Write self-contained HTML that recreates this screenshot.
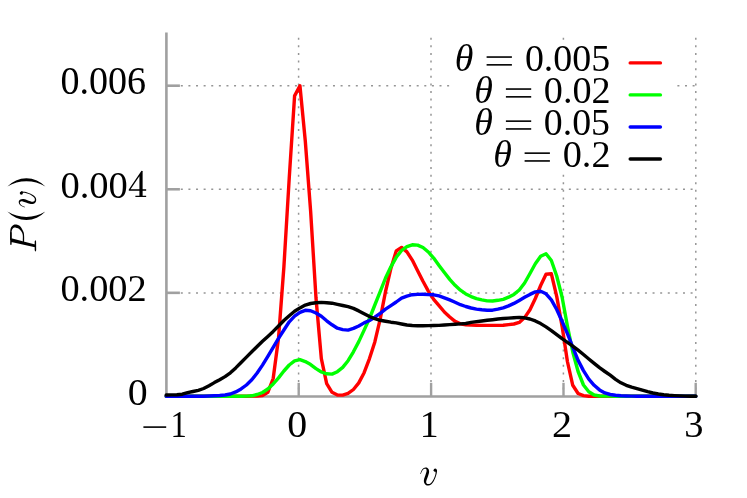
<!DOCTYPE html>
<html><head><meta charset="utf-8"><title>P(v)</title>
<style>
html,body{margin:0;padding:0;background:#fff;}
body{width:747px;height:498px;overflow:hidden;position:relative;font-family:"Liberation Serif",serif;}
svg text{font-family:"Liberation Serif",serif;fill:#000;font-kerning:none;}
</style></head><body>
<svg width="747" height="498" viewBox="0 0 747 498" style="position:absolute;left:0;top:0;will-change:transform">
<rect width="747" height="498" fill="#fff"/>
<path d="M298.60 387.59v2.00M298.60 379.99v2.00M298.60 372.38v2.00M298.60 364.78v2.00M298.60 357.17v2.00M298.60 349.57v2.00M298.60 341.96v2.00M298.60 334.36v2.00M298.60 326.75v2.00M298.60 319.15v2.00M298.60 311.54v2.00M298.60 303.94v2.00M298.60 296.33v2.00M298.60 288.73v2.00M298.60 281.12v2.00M298.60 273.52v2.00M298.60 265.91v2.00M298.60 258.31v2.00M298.60 250.70v2.00M298.60 243.10v2.00M298.60 235.49v2.00M298.60 227.89v2.00M298.60 220.28v2.00M298.60 212.68v2.00M298.60 205.07v2.00M298.60 197.47v2.00M298.60 189.86v2.00M298.60 182.26v2.00M298.60 174.65v2.00M298.60 167.05v2.00M298.60 159.44v2.00M298.60 151.84v2.00M298.60 144.23v2.00M298.60 136.63v2.00M298.60 129.02v2.00M298.60 121.42v2.00M298.60 113.81v2.00M298.60 106.21v2.00M298.60 98.60v2.00M298.60 91.00v2.00M298.60 83.39v2.00M298.60 75.79v2.00M298.60 68.18v2.00M298.60 60.58v2.00M298.60 52.97v2.00M298.60 45.37v2.00M298.60 37.76v2.00" stroke="#959595" stroke-width="1.50" fill="none"/>
<path d="M431.00 387.59v2.00M431.00 379.99v2.00M431.00 372.38v2.00M431.00 364.78v2.00M431.00 357.17v2.00M431.00 349.57v2.00M431.00 341.96v2.00M431.00 334.36v2.00M431.00 326.75v2.00M431.00 319.15v2.00M431.00 311.54v2.00M431.00 303.94v2.00M431.00 296.33v2.00M431.00 288.73v2.00M431.00 281.12v2.00M431.00 273.52v2.00M431.00 265.91v2.00M431.00 258.31v2.00M431.00 250.70v2.00M431.00 243.10v2.00M431.00 235.49v2.00M431.00 227.89v2.00M431.00 220.28v2.00M431.00 212.68v2.00M431.00 205.07v2.00M431.00 197.47v2.00M431.00 189.86v2.00M431.00 182.26v2.00M431.00 174.65v2.00M431.00 167.05v2.00M431.00 159.44v2.00M431.00 151.84v2.00M431.00 144.23v2.00M431.00 136.63v2.00M431.00 129.02v2.00M431.00 121.42v2.00M431.00 113.81v2.00M431.00 106.21v2.00M431.00 98.60v2.00M431.00 91.00v2.00M431.00 83.39v2.00M431.00 75.79v2.00M431.00 68.18v2.00M431.00 60.58v2.00M431.00 52.97v2.00M431.00 45.37v2.00M431.00 37.76v2.00" stroke="#959595" stroke-width="1.50" fill="none"/>
<path d="M695.80 387.59v2.00M695.80 379.99v2.00M695.80 372.38v2.00M695.80 364.78v2.00M695.80 357.17v2.00M695.80 349.57v2.00M695.80 341.96v2.00M695.80 334.36v2.00M695.80 326.75v2.00M695.80 319.15v2.00M695.80 311.54v2.00M695.80 303.94v2.00M695.80 296.33v2.00M695.80 288.73v2.00M695.80 281.12v2.00M695.80 273.52v2.00M695.80 265.91v2.00M695.80 258.31v2.00M695.80 250.70v2.00M695.80 243.10v2.00M695.80 235.49v2.00M695.80 227.89v2.00M695.80 220.28v2.00M695.80 212.68v2.00M695.80 205.07v2.00M695.80 197.47v2.00M695.80 189.86v2.00M695.80 182.26v2.00M695.80 174.65v2.00M695.80 167.05v2.00M695.80 159.44v2.00M695.80 151.84v2.00M695.80 144.23v2.00M695.80 136.63v2.00M695.80 129.02v2.00M695.80 121.42v2.00M695.80 113.81v2.00M695.80 106.21v2.00M695.80 98.60v2.00M695.80 91.00v2.00M695.80 83.39v2.00M695.80 75.79v2.00M695.80 68.18v2.00M695.80 60.58v2.00M695.80 52.97v2.00M695.80 45.37v2.00M695.80 37.76v2.00" stroke="#959595" stroke-width="1.50" fill="none"/>
<path d="M563.40 37.76v2.00" stroke="#959595" stroke-width="1.50" fill="none"/>
<path d="M563.40 387.59v2.00M563.40 379.99v2.00M563.40 372.38v2.00M563.40 364.78v2.00M563.40 357.17v2.00M563.40 349.57v2.00M563.40 341.96v2.00M563.40 334.36v2.00M563.40 326.75v2.00M563.40 319.15v2.00M563.40 311.54v2.00M563.40 303.94v2.00M563.40 296.33v2.00M563.40 288.73v2.00M563.40 281.12v2.00M563.40 273.52v2.00M563.40 265.91v2.00M563.40 258.31v2.00M563.40 250.70v2.00M563.40 243.10v2.00M563.40 235.49v2.00M563.40 227.89v2.00M563.40 220.28v2.00M563.40 212.68v2.00M563.40 205.07v2.00M563.40 197.47v2.00M563.40 189.86v2.00M563.40 182.26v2.00M563.40 174.65v2.00" stroke="#959595" stroke-width="1.50" fill="none"/>
<path d="M173.19 292.93h2.00M180.80 292.93h2.00M188.41 292.93h2.00M196.02 292.93h2.00M203.63 292.93h2.00M211.24 292.93h2.00M218.85 292.93h2.00M226.45 292.93h2.00M234.06 292.93h2.00M241.67 292.93h2.00M249.28 292.93h2.00M256.89 292.93h2.00M264.50 292.93h2.00M272.11 292.93h2.00M279.72 292.93h2.00M287.33 292.93h2.00M294.94 292.93h2.00M302.54 292.93h2.00M310.15 292.93h2.00M317.76 292.93h2.00M325.37 292.93h2.00M332.98 292.93h2.00M340.59 292.93h2.00M348.20 292.93h2.00M355.81 292.93h2.00M363.42 292.93h2.00M371.02 292.93h2.00M378.63 292.93h2.00M386.24 292.93h2.00M393.85 292.93h2.00M401.46 292.93h2.00M409.07 292.93h2.00M416.68 292.93h2.00M424.29 292.93h2.00M431.90 292.93h2.00M439.51 292.93h2.00M447.11 292.93h2.00M454.72 292.93h2.00M462.33 292.93h2.00M469.94 292.93h2.00M477.55 292.93h2.00M485.16 292.93h2.00M492.77 292.93h2.00M500.38 292.93h2.00M507.99 292.93h2.00M515.60 292.93h2.00M523.20 292.93h2.00M530.81 292.93h2.00M538.42 292.93h2.00M546.03 292.93h2.00M553.64 292.93h2.00M561.25 292.93h2.00M568.86 292.93h2.00M576.47 292.93h2.00M584.08 292.93h2.00M591.69 292.93h2.00M599.29 292.93h2.00M606.90 292.93h2.00M614.51 292.93h2.00M622.12 292.93h2.00M629.73 292.93h2.00M637.34 292.93h2.00M644.95 292.93h2.00M652.56 292.93h2.00M660.17 292.93h2.00M667.78 292.93h2.00M675.39 292.93h2.00M682.99 292.93h2.00M690.60 292.93h2.00" stroke="#959595" stroke-width="1.50" fill="none"/>
<path d="M173.19 189.37h2.00M180.80 189.37h2.00M188.41 189.37h2.00M196.02 189.37h2.00M203.63 189.37h2.00M211.24 189.37h2.00M218.85 189.37h2.00M226.45 189.37h2.00M234.06 189.37h2.00M241.67 189.37h2.00M249.28 189.37h2.00M256.89 189.37h2.00M264.50 189.37h2.00M272.11 189.37h2.00M279.72 189.37h2.00M287.33 189.37h2.00M294.94 189.37h2.00M302.54 189.37h2.00M310.15 189.37h2.00M317.76 189.37h2.00M325.37 189.37h2.00M332.98 189.37h2.00M340.59 189.37h2.00M348.20 189.37h2.00M355.81 189.37h2.00M363.42 189.37h2.00M371.02 189.37h2.00M378.63 189.37h2.00M386.24 189.37h2.00M393.85 189.37h2.00M401.46 189.37h2.00M409.07 189.37h2.00M416.68 189.37h2.00M424.29 189.37h2.00M431.90 189.37h2.00M439.51 189.37h2.00M447.11 189.37h2.00M454.72 189.37h2.00M462.33 189.37h2.00M469.94 189.37h2.00M477.55 189.37h2.00M485.16 189.37h2.00M492.77 189.37h2.00M500.38 189.37h2.00M507.99 189.37h2.00M515.60 189.37h2.00M523.20 189.37h2.00M530.81 189.37h2.00M538.42 189.37h2.00M546.03 189.37h2.00M553.64 189.37h2.00M561.25 189.37h2.00M568.86 189.37h2.00M576.47 189.37h2.00M584.08 189.37h2.00M591.69 189.37h2.00M599.29 189.37h2.00M606.90 189.37h2.00M614.51 189.37h2.00M622.12 189.37h2.00M629.73 189.37h2.00M637.34 189.37h2.00M644.95 189.37h2.00M652.56 189.37h2.00M660.17 189.37h2.00M667.78 189.37h2.00M675.39 189.37h2.00M682.99 189.37h2.00M690.60 189.37h2.00" stroke="#959595" stroke-width="1.50" fill="none"/>
<path d="M173.19 85.80h2.00M180.80 85.80h2.00M188.41 85.80h2.00M196.02 85.80h2.00M203.63 85.80h2.00M211.24 85.80h2.00M218.85 85.80h2.00M226.45 85.80h2.00M234.06 85.80h2.00M241.67 85.80h2.00M249.28 85.80h2.00M256.89 85.80h2.00M264.50 85.80h2.00M272.11 85.80h2.00M279.72 85.80h2.00M287.33 85.80h2.00M294.94 85.80h2.00M302.54 85.80h2.00M310.15 85.80h2.00M317.76 85.80h2.00M325.37 85.80h2.00M332.98 85.80h2.00M340.59 85.80h2.00M348.20 85.80h2.00M355.81 85.80h2.00M363.42 85.80h2.00M371.02 85.80h2.00M378.63 85.80h2.00M386.24 85.80h2.00M393.85 85.80h2.00M401.46 85.80h2.00M409.07 85.80h2.00M416.68 85.80h2.00M424.29 85.80h2.00M431.90 85.80h2.00M439.51 85.80h2.00M447.11 85.80h2.00" stroke="#959595" stroke-width="1.50" fill="none"/>
<path d="M677.40 85.80h2.00M685.01 85.80h2.00M692.62 85.80h2.00" stroke="#959595" stroke-width="1.50" fill="none"/>
<path d="M166.40 32.50 V396.55 H697.00" stroke="#a0a0a0" stroke-width="2.6" fill="none" stroke-linejoin="miter"/>
<path d="M298.70 396.55 V382.8" stroke="#a0a0a0" stroke-width="2.4" fill="none"/>
<path d="M431.10 396.55 V382.8" stroke="#a0a0a0" stroke-width="2.4" fill="none"/>
<path d="M563.50 396.55 V382.8" stroke="#a0a0a0" stroke-width="2.4" fill="none"/>
<path d="M695.70 396.55 V382.8" stroke="#a0a0a0" stroke-width="2.4" fill="none"/>
<path d="M166.40 292.83 H179.9" stroke="#a0a0a0" stroke-width="2.6" fill="none"/>
<path d="M166.40 189.27 H179.9" stroke="#a0a0a0" stroke-width="2.6" fill="none"/>
<path d="M166.40 85.70 H179.9" stroke="#a0a0a0" stroke-width="2.6" fill="none"/>
<path d="M166.20 396.3 L171.55 396.3 L176.90 396.3 L182.25 396.3 L187.60 396.3 L192.95 396.3 L198.30 396.3 L203.65 396.3 L209.00 396.3 L214.35 396.3 L219.69 396.3 L225.04 396.3 L230.39 396.3 L235.74 396.3 L241.09 396.3 L246.44 396.2 L251.79 396.1 L257.14 396.0 L262.49 395.6 L267.84 392.3 L273.19 378.5 L278.54 338.0 L283.89 267.0 L289.24 178.0 L294.59 95.9 L299.94 85.7 L305.29 141.0 L310.64 211.3 L315.99 298.0 L321.34 358.6 L326.68 383.6 L332.03 392.3 L337.38 395.0 L342.73 395.1 L348.08 393.4 L353.43 389.5 L358.78 382.9 L364.13 372.7 L369.48 358.6 L374.83 341.9 L380.18 319.1 L385.53 291.5 L390.88 268.4 L396.23 251.0 L401.58 247.4 L406.93 251.9 L412.28 260.1 L417.63 270.7 L422.98 281.3 L428.33 291.1 L433.67 299.4 L439.02 305.6 L444.37 312.0 L449.72 317.0 L455.07 321.3 L460.42 323.9 L465.77 324.7 L471.12 325.1 L476.47 325.3 L481.82 325.4 L487.17 325.4 L492.52 325.4 L497.87 325.4 L503.22 325.3 L508.57 324.6 L513.92 324.0 L519.27 322.4 L524.62 317.6 L529.97 309.7 L535.32 298.5 L540.66 285.5 L546.01 274.2 L551.36 273.8 L556.71 296.4 L562.06 326.1 L567.41 361.5 L572.76 385.3 L578.11 393.5 L583.46 395.6 L588.81 396.3 L594.16 396.3 L599.51 396.3 L604.86 396.3 L610.21 396.3 L615.56 396.3 L620.91 396.3 L626.26 396.3 L631.61 396.3 L636.96 396.3 L642.31 396.3 L647.65 396.3 L653.00 396.3 L658.35 396.3 L663.70 396.3 L669.05 396.3 L674.40 396.3 L679.75 396.3 L685.10 396.3 L690.45 396.3 L695.80 396.3" stroke="#ff0000" fill="none" stroke-width="3.4" stroke-linecap="round" stroke-linejoin="round"/>
<path d="M166.20 396.3 L171.55 396.3 L176.90 396.3 L182.25 396.3 L187.60 396.3 L192.95 396.3 L198.30 396.3 L203.65 396.3 L209.00 396.3 L214.35 396.3 L219.69 396.3 L225.04 396.3 L230.39 396.3 L235.74 396.3 L241.09 396.2 L246.44 396.1 L251.79 395.8 L257.14 394.5 L262.49 392.5 L267.84 388.9 L273.19 384.0 L278.54 377.9 L283.89 371.0 L289.24 365.0 L294.59 360.9 L299.94 359.7 L305.29 361.6 L310.64 364.6 L315.99 368.6 L321.34 372.0 L326.68 373.8 L332.03 374.1 L337.38 371.7 L342.73 367.4 L348.08 360.7 L353.43 351.8 L358.78 341.6 L364.13 330.1 L369.48 318.5 L374.83 305.0 L380.18 291.6 L385.53 278.0 L390.88 266.8 L396.23 257.3 L401.58 250.5 L406.93 246.6 L412.28 244.8 L417.63 245.1 L422.98 247.5 L428.33 252.0 L433.67 258.1 L439.02 265.4 L444.37 272.5 L449.72 279.4 L455.07 285.3 L460.42 290.2 L465.77 293.9 L471.12 296.6 L476.47 298.6 L481.82 299.9 L487.17 300.9 L492.52 301.0 L497.87 300.3 L503.22 299.3 L508.57 297.2 L513.92 294.4 L519.27 290.0 L524.62 283.0 L529.97 273.5 L535.32 263.8 L540.66 256.3 L546.01 253.7 L551.36 260.5 L556.71 276.0 L562.06 297.0 L567.41 326.0 L572.76 352.0 L578.11 371.5 L583.46 385.0 L588.81 391.8 L594.16 395.0 L599.51 396.0 L604.86 396.1 L610.21 396.1 L615.56 396.2 L620.91 396.2 L626.26 396.3 L631.61 396.3 L636.96 396.3 L642.31 396.3 L647.65 396.3 L653.00 396.3 L658.35 396.3 L663.70 396.3 L669.05 396.3 L674.40 396.3 L679.75 396.3 L685.10 396.3 L690.45 396.3 L695.80 396.3" stroke="#00ff00" fill="none" stroke-width="3.4" stroke-linecap="round" stroke-linejoin="round"/>
<path d="M166.20 396.3 L171.55 396.3 L176.90 396.3 L182.25 396.3 L187.60 396.3 L192.95 396.2 L198.30 396.2 L203.65 396.2 L209.00 396.0 L214.35 395.8 L219.69 395.5 L225.04 395.0 L230.39 394.0 L235.74 391.9 L241.09 388.9 L246.44 385.0 L251.79 379.8 L257.14 373.0 L262.49 365.1 L267.84 356.3 L273.19 347.3 L278.54 338.4 L283.89 330.0 L289.24 321.8 L294.59 316.2 L299.94 312.4 L305.29 310.3 L310.64 310.8 L315.99 313.0 L321.34 316.3 L326.68 320.8 L332.03 324.8 L337.38 328.2 L342.73 329.6 L348.08 330.1 L353.43 328.4 L358.78 326.0 L364.13 322.9 L369.48 320.5 L374.83 317.2 L380.18 313.3 L385.53 309.1 L390.88 305.6 L396.23 302.0 L401.58 298.1 L406.93 296.1 L412.28 294.7 L417.63 294.4 L422.98 294.3 L428.33 294.6 L433.67 294.8 L439.02 295.9 L444.37 297.8 L449.72 299.9 L455.07 302.2 L460.42 304.7 L465.77 306.5 L471.12 308.0 L476.47 309.1 L481.82 309.8 L487.17 310.2 L492.52 310.2 L497.87 309.2 L503.22 307.9 L508.57 305.9 L513.92 303.4 L519.27 300.4 L524.62 297.3 L529.97 294.4 L535.32 291.9 L540.66 291.3 L546.01 293.8 L551.36 299.9 L556.71 309.5 L562.06 321.2 L567.41 333.6 L572.76 347.1 L578.11 360.4 L583.46 370.6 L588.81 379.1 L594.16 385.3 L599.51 389.9 L604.86 392.9 L610.21 394.5 L615.56 395.3 L620.91 395.8 L626.26 396.0 L631.61 396.1 L636.96 396.2 L642.31 396.2 L647.65 396.3 L653.00 396.3 L658.35 396.3 L663.70 396.3 L669.05 396.3 L674.40 396.3 L679.75 396.3 L685.10 396.3 L690.45 396.3 L695.80 396.3" stroke="#0000ff" fill="none" stroke-width="3.4" stroke-linecap="round" stroke-linejoin="round"/>
<path d="M166.20 395.0 L171.55 394.9 L176.90 394.8 L182.25 394.2 L187.60 392.7 L192.95 391.5 L198.30 390.3 L203.65 388.5 L209.00 385.7 L214.35 382.6 L219.69 379.7 L225.04 376.6 L230.39 372.8 L235.74 367.9 L241.09 362.5 L246.44 357.1 L251.79 351.8 L257.14 346.5 L262.49 341.3 L267.84 336.4 L273.19 331.4 L278.54 326.0 L283.89 320.5 L289.24 315.7 L294.59 311.3 L299.94 307.9 L305.29 305.1 L310.64 303.5 L315.99 302.7 L321.34 302.4 L326.68 302.7 L332.03 303.2 L337.38 304.4 L342.73 305.5 L348.08 306.7 L353.43 308.4 L358.78 310.9 L364.13 313.7 L369.48 316.5 L374.83 318.7 L380.18 320.3 L385.53 321.2 L390.88 322.2 L396.23 322.9 L401.58 324.0 L406.93 325.0 L412.28 325.5 L417.63 325.7 L422.98 325.7 L428.33 325.6 L433.67 325.5 L439.02 325.4 L444.37 325.0 L449.72 324.6 L455.07 324.2 L460.42 323.9 L465.77 323.5 L471.12 322.4 L476.47 321.6 L481.82 321.0 L487.17 320.3 L492.52 319.7 L497.87 319.0 L503.22 318.5 L508.57 318.1 L513.92 317.7 L519.27 317.4 L524.62 317.8 L529.97 319.0 L535.32 320.9 L540.66 323.6 L546.01 326.9 L551.36 330.6 L556.71 334.6 L562.06 338.7 L567.41 342.3 L572.76 346.1 L578.11 350.2 L583.46 354.5 L588.81 359.0 L594.16 363.4 L599.51 367.7 L604.86 371.5 L610.21 375.2 L615.56 379.3 L620.91 382.8 L626.26 385.3 L631.61 387.1 L636.96 388.6 L642.31 390.2 L647.65 391.7 L653.00 393.0 L658.35 394.0 L663.70 394.8 L669.05 395.3 L674.40 395.6 L679.75 395.9 L685.10 396.1 L690.45 396.3 L695.80 396.3" stroke="#000000" fill="none" stroke-width="3.4" stroke-linecap="round" stroke-linejoin="round"/>
<path d="M630.2 62.9 H660.4" stroke="#ff0000" fill="none" stroke-width="3.4" stroke-linecap="round" stroke-linejoin="round"/>
<path d="M630.2 94.9 H660.4" stroke="#00ff00" fill="none" stroke-width="3.4" stroke-linecap="round" stroke-linejoin="round"/>
<path d="M630.2 127.0 H660.4" stroke="#0000ff" fill="none" stroke-width="3.4" stroke-linecap="round" stroke-linejoin="round"/>
<path d="M630.2 159.0 H660.4" stroke="#000000" fill="none" stroke-width="3.4" stroke-linecap="round" stroke-linejoin="round"/>
<text transform="matrix(0.3808 0.0000 0.0000 0.3902 60.40 93.90)" font-size="100">0.006</text>
<text transform="matrix(0.3853 0.0000 0.0000 0.3828 60.38 197.51)" font-size="100">0.00</text>
<text transform="matrix(0.3839 0.0000 0.0000 0.3843 60.39 301.31)" font-size="100">0.002</text>
<text transform="matrix(0.3987 0.0000 0.0000 0.3868 127.63 404.87)" font-size="100">0</text>
<text transform="matrix(0.3267 0.0000 0.0000 0.3878 170.58 436.75)" font-size="100">1</text>
<text transform="matrix(0.3987 0.0000 0.0000 0.3868 287.33 436.97)" font-size="100">0</text>
<text transform="matrix(0.3778 0.0000 0.0000 0.3878 419.83 436.75)" font-size="100">1</text>
<text transform="matrix(0.4016 0.0000 0.0000 0.3836 552.09 436.85)" font-size="100">2</text>
<text transform="matrix(0.3849 0.0000 0.0000 0.3855 684.21 436.97)" font-size="100">3</text>
<text transform="matrix(0.3795 0.0000 0.0000 0.3822 454.80 70.68)" font-size="100" font-style="italic">θ</text>
<text transform="matrix(0.3788 0.0000 0.0000 0.3813 524.91 70.81)" font-size="100">0.005</text>
<text transform="matrix(0.3795 0.0000 0.0000 0.3822 474.20 102.68)" font-size="100" font-style="italic">θ</text>
<text transform="matrix(0.3821 0.0000 0.0000 0.3813 543.79 102.81)" font-size="100">0.02</text>
<text transform="matrix(0.3795 0.0000 0.0000 0.3822 474.20 134.78)" font-size="100" font-style="italic">θ</text>
<text transform="matrix(0.3784 0.0000 0.0000 0.3813 543.81 134.91)" font-size="100">0.05</text>
<text transform="matrix(0.3795 0.0000 0.0000 0.3822 493.20 166.78)" font-size="100" font-style="italic">θ</text>
<text transform="matrix(0.3830 0.0000 0.0000 0.3813 562.69 166.91)" font-size="100">0.2</text>
<path d="M11.53 239.67C11.53 238.86 11.51 236.27 11.53 234.82C11.56 233.36 11.46 232.02 11.68 230.95C11.89 229.88 12.36 228.95 12.82 228.39C13.29 227.84 13.95 227.72 14.47 227.60C14.99 227.48 15.35 227.58 15.95 227.68C16.54 227.78 17.33 227.83 18.04 228.21C18.75 228.60 19.50 229.27 20.18 230.01C20.86 230.75 21.66 231.69 22.10 232.65C22.54 233.60 22.69 234.28 22.82 235.74C22.95 237.20 22.66 240.49 22.86 241.43C23.07 242.38 23.85 242.40 24.06 241.43C24.26 240.47 24.19 237.20 24.10 235.65C24.01 234.09 23.87 233.26 23.50 232.11C23.13 230.96 22.53 229.79 21.88 228.74C21.23 227.70 20.52 226.54 19.60 225.86C18.69 225.17 17.42 224.76 16.39 224.62C15.37 224.49 14.33 224.62 13.45 225.06C12.58 225.50 11.67 226.32 11.13 227.27C10.59 228.21 10.39 229.46 10.24 230.72C10.09 231.98 10.21 233.31 10.21 234.80C10.20 236.29 9.99 238.86 10.21 239.67C10.43 240.48 11.31 239.67 11.53 239.67Z"/><path d="M11.31 238.33L35.03 244.51L35.03 247.34L11.31 242.04ZM10.21 232.23L11.62 232.23L11.62 244.51L10.92 244.95L10.21 244.51ZM35.39 240.01L36.09 241.51L36.18 250.34L35.39 251.67L34.68 250.34L34.68 241.51Z"/>
<path d="M139.41 174.00L142.62 170.63L142.62 196.35L139.41 196.35Z M141.50 170.79L142.78 171.27L130.41 189.44L128.80 189.44Z M128.80 189.20L146.16 189.20L146.16 190.64L128.80 190.64Z M135.39 195.87L146.16 195.87L146.16 197.07L135.39 197.07Z"/>
<g transform="translate(420.0 485.6)"><path d="M0.89 -11.70C1.09 -12.17 1.56 -13.74 2.07 -14.54C2.57 -15.33 3.31 -16.09 3.92 -16.49C4.53 -16.89 5.30 -17.02 5.72 -16.92C6.15 -16.82 6.35 -16.39 6.49 -15.91C6.62 -15.44 6.70 -14.93 6.53 -14.05C6.36 -13.18 5.87 -11.86 5.47 -10.65C5.07 -9.44 4.41 -8.00 4.16 -6.81C3.90 -5.62 3.73 -4.49 3.95 -3.52C4.18 -2.54 4.79 -1.52 5.52 -0.94C6.25 -0.37 7.40 -0.06 8.33 -0.09C9.25 -0.12 10.24 -0.46 11.09 -1.10C11.94 -1.75 12.71 -2.80 13.42 -3.95C14.12 -5.09 14.82 -6.68 15.34 -7.97C15.86 -9.26 16.27 -10.67 16.54 -11.68C16.82 -12.70 16.93 -13.40 16.98 -14.05C17.03 -14.70 17.15 -15.38 16.85 -15.59C16.56 -15.80 15.41 -15.58 15.19 -15.32C14.97 -15.06 15.46 -14.62 15.52 -14.05C15.57 -13.48 15.68 -12.87 15.50 -11.92C15.33 -10.97 14.95 -9.57 14.46 -8.33C13.97 -7.09 13.24 -5.53 12.56 -4.49C11.88 -3.44 11.10 -2.55 10.39 -2.05C9.69 -1.55 8.95 -1.47 8.33 -1.49C7.70 -1.52 6.99 -1.83 6.64 -2.21C6.28 -2.59 6.16 -3.15 6.18 -3.80C6.20 -4.45 6.44 -5.12 6.76 -6.12C7.09 -7.12 7.76 -8.52 8.15 -9.81C8.54 -11.09 9.09 -12.64 9.11 -13.82C9.12 -15.00 8.79 -16.18 8.25 -16.90C7.71 -17.63 6.68 -18.09 5.87 -18.15C5.06 -18.20 4.15 -17.77 3.41 -17.23C2.67 -16.69 1.95 -15.80 1.44 -14.91C0.93 -14.02 0.46 -12.44 0.37 -11.90C0.28 -11.37 0.80 -11.74 0.89 -11.70Z"/><circle cx="15.24" cy="-15.40" r="1.63"/></g>
<g transform="translate(36.3 207.7) rotate(-90) scale(0.96 0.97)"><path d="M0.89 -11.70C1.09 -12.17 1.56 -13.74 2.07 -14.54C2.57 -15.33 3.31 -16.09 3.92 -16.49C4.53 -16.89 5.30 -17.02 5.72 -16.92C6.15 -16.82 6.35 -16.39 6.49 -15.91C6.62 -15.44 6.70 -14.93 6.53 -14.05C6.36 -13.18 5.87 -11.86 5.47 -10.65C5.07 -9.44 4.41 -8.00 4.16 -6.81C3.90 -5.62 3.73 -4.49 3.95 -3.52C4.18 -2.54 4.79 -1.52 5.52 -0.94C6.25 -0.37 7.40 -0.06 8.33 -0.09C9.25 -0.12 10.24 -0.46 11.09 -1.10C11.94 -1.75 12.71 -2.80 13.42 -3.95C14.12 -5.09 14.82 -6.68 15.34 -7.97C15.86 -9.26 16.27 -10.67 16.54 -11.68C16.82 -12.70 16.93 -13.40 16.98 -14.05C17.03 -14.70 17.15 -15.38 16.85 -15.59C16.56 -15.80 15.41 -15.58 15.19 -15.32C14.97 -15.06 15.46 -14.62 15.52 -14.05C15.57 -13.48 15.68 -12.87 15.50 -11.92C15.33 -10.97 14.95 -9.57 14.46 -8.33C13.97 -7.09 13.24 -5.53 12.56 -4.49C11.88 -3.44 11.10 -2.55 10.39 -2.05C9.69 -1.55 8.95 -1.47 8.33 -1.49C7.70 -1.52 6.99 -1.83 6.64 -2.21C6.28 -2.59 6.16 -3.15 6.18 -3.80C6.20 -4.45 6.44 -5.12 6.76 -6.12C7.09 -7.12 7.76 -8.52 8.15 -9.81C8.54 -11.09 9.09 -12.64 9.11 -13.82C9.12 -15.00 8.79 -16.18 8.25 -16.90C7.71 -17.63 6.68 -18.09 5.87 -18.15C5.06 -18.20 4.15 -17.77 3.41 -17.23C2.67 -16.69 1.95 -15.80 1.44 -14.91C0.93 -14.02 0.46 -12.44 0.37 -11.90C0.28 -11.37 0.80 -11.74 0.89 -11.70Z"/><circle cx="15.24" cy="-15.40" r="1.63"/></g>
<path d="M7.4 211.6 A25.9 25.9 0 0 0 45.4 211.6 A36.5 36.5 0 0 1 7.4 211.6Z"/>
<path d="M7.4 186.6 A25.9 25.9 0 0 1 45.4 186.6 A36.5 36.5 0 0 0 7.4 186.6Z"/>
<rect x="143.4" y="426.3" width="22.8" height="1.6" fill="#000"/>
<rect x="486.6" y="56.25" width="25.3" height="1.6" fill="#000"/>
<rect x="486.6" y="64.05" width="25.3" height="1.6" fill="#000"/>
<rect x="505.9" y="88.25" width="25.3" height="1.6" fill="#000"/>
<rect x="505.9" y="96.05" width="25.3" height="1.6" fill="#000"/>
<rect x="505.9" y="120.35" width="25.3" height="1.6" fill="#000"/>
<rect x="505.9" y="128.15" width="25.3" height="1.6" fill="#000"/>
<rect x="524.6" y="152.35" width="25.3" height="1.6" fill="#000"/>
<rect x="524.6" y="160.15" width="25.3" height="1.6" fill="#000"/>
</svg>
</body></html>
